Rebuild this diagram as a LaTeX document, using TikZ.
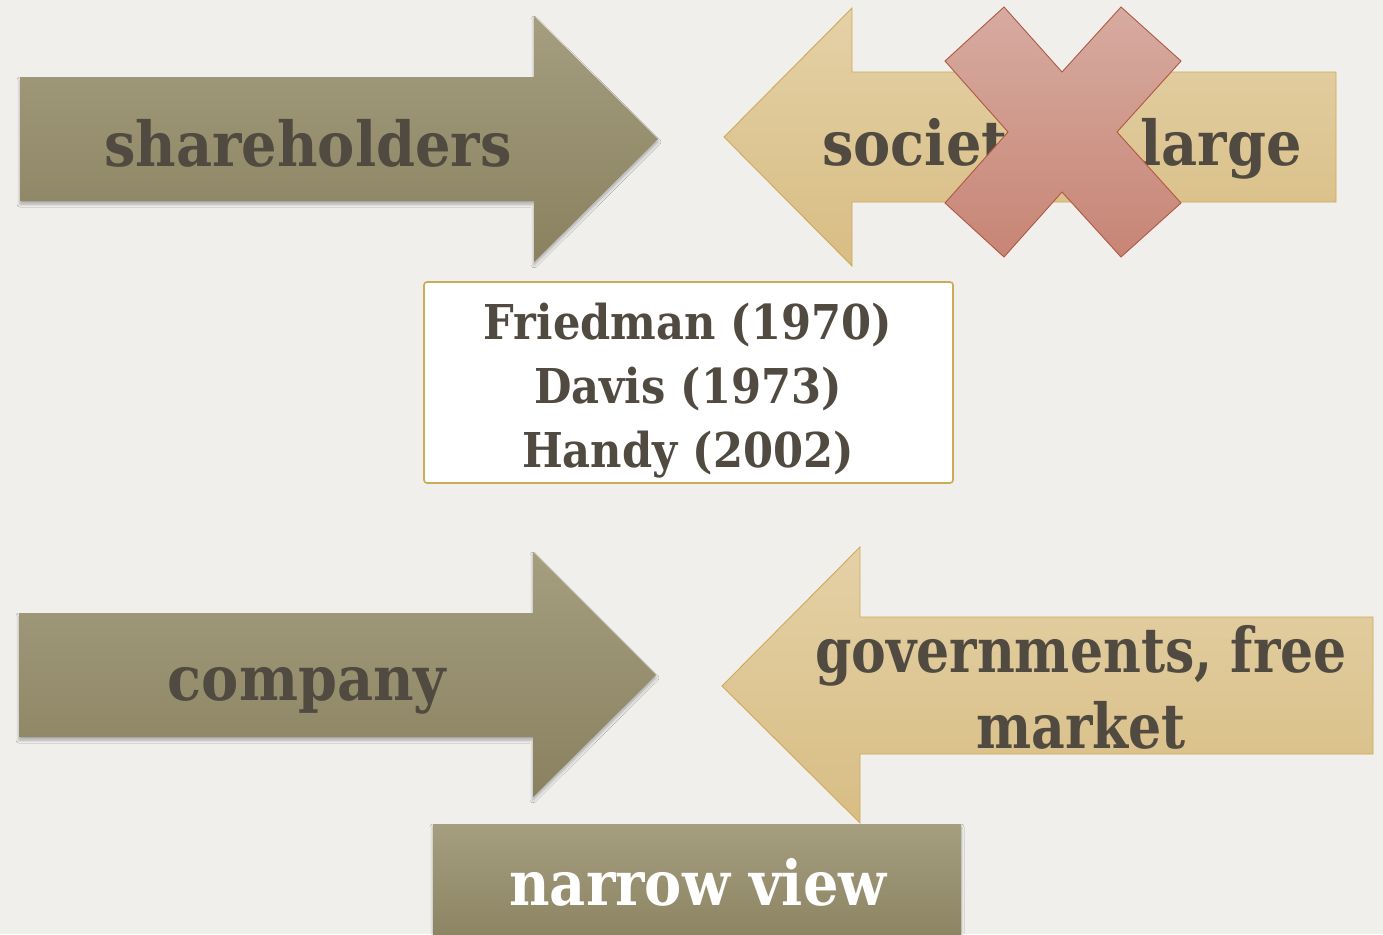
\documentclass[tikz,border=0pt]{standalone}
\usepackage{fontspec}
\setmainfont{DejaVu Serif}[FakeStretch=0.90]
\newfontfamily\narrowserif{DejaVu Serif}[FakeStretch=0.84]
\usetikzlibrary{shadows.blur}

\definecolor{paper}{RGB}{240,239,236}
\definecolor{inktext}{RGB}{80,74,64}
\definecolor{oliveTop}{RGB}{165,158,127}
\definecolor{oliveBot}{RGB}{137,129,95}
\definecolor{tanTop}{RGB}{228,209,166}
\definecolor{tanBot}{RGB}{216,189,132}
\definecolor{tanLine}{RGB}{205,170,88}
\definecolor{crossTop}{RGB}{215,171,161}
\definecolor{crossBot}{RGB}{199,133,117}
\definecolor{crossLine}{RGB}{176,88,66}

\tikzset{
  darkshape/.style={top color=oliveTop, bottom color=oliveBot, draw=none,
    blur shadow={shadow xshift=0pt, shadow yshift=-3pt, shadow blur radius=3pt,
      shadow blur steps=6, shadow opacity=30}},
  lightshape/.style={top color=tanTop, bottom color=tanBot, draw=tanLine, line width=0.9pt},
  crossshape/.style={top color=crossTop, bottom color=crossBot, draw=crossLine, line width=0.9pt},
  citebox/.style={fill=white, draw=tanLine, line width=1.6pt, rounded corners=3pt},
  bigtext/.style={font=\bfseries\fontsize{62}{76}\selectfont, text=inktext, inner sep=0pt},
  citetext/.style={font=\bfseries\fontsize{48}{64}\selectfont, text=inktext, inner sep=0pt, align=center},
}

\begin{document}
\begin{tikzpicture}[x=1pt,y=-1pt]
  \useasboundingbox (0,0) rectangle (1383,934);
  \clip (0,0) rectangle (1383,934);
  \fill[paper] (0,0) rectangle (1383,934);

  % upper row: shareholders -> | <- society at large (crossed out)
  \path[darkshape] (20,77) -- (534,77) -- (534,16) -- (658,139) -- (534,262)
    -- (534,201) -- (20,201) -- cycle;
  \node[bigtext, anchor=base] (share) at (308,166) {shareholders};

  \path[lightshape] (724,137) -- (852,8) -- (852,72) -- (1336,72) -- (1336,202)
    -- (852,202) -- (852,266) -- cycle;
  \node[bigtext, anchor=base] (society) at (1062,165) {society at large};

  \path[crossshape] (1004,7) -- (1062,72) -- (1121,7) -- (1181,61) -- (1117,132)
    -- (1181,203) -- (1121,257) -- (1062,192) -- (1004,257) -- (945,203)
    -- (1008,132) -- (945,61) -- cycle;

  % references box (base anchor = baseline of the last line)
  \path[citebox] (424,282) rectangle (953,483);
  \node[citetext, anchor=base] (cite) at (688,467)
    {Friedman (1970)\\Davis (1973)\\Handy (2002)};

  % lower row: company -> | <- governments, free market
  \path[darkshape] (19,613) -- (533,613) -- (533,552) -- (656,675) -- (533,797)
    -- (533,737) -- (19,737) -- cycle;
  \node[bigtext, anchor=base] (company) at (307,700) {company};

  \path[lightshape] (722,686) -- (860,547) -- (860,617) -- (1373,617) -- (1373,754)
    -- (860,754) -- (860,823) -- cycle;
  \node[bigtext, font=\narrowserif\bfseries\fontsize{62}{76}\selectfont,
    anchor=base, align=center] (gov) at (1081,748)
    {governments, free\\market};

  % label box at the bottom
  \path[darkshape] (433,824) rectangle (961,950);
  \node[bigtext, anchor=base, text=white] (narrow) at (698,905) {narrow view};
\end{tikzpicture}
\end{document}
